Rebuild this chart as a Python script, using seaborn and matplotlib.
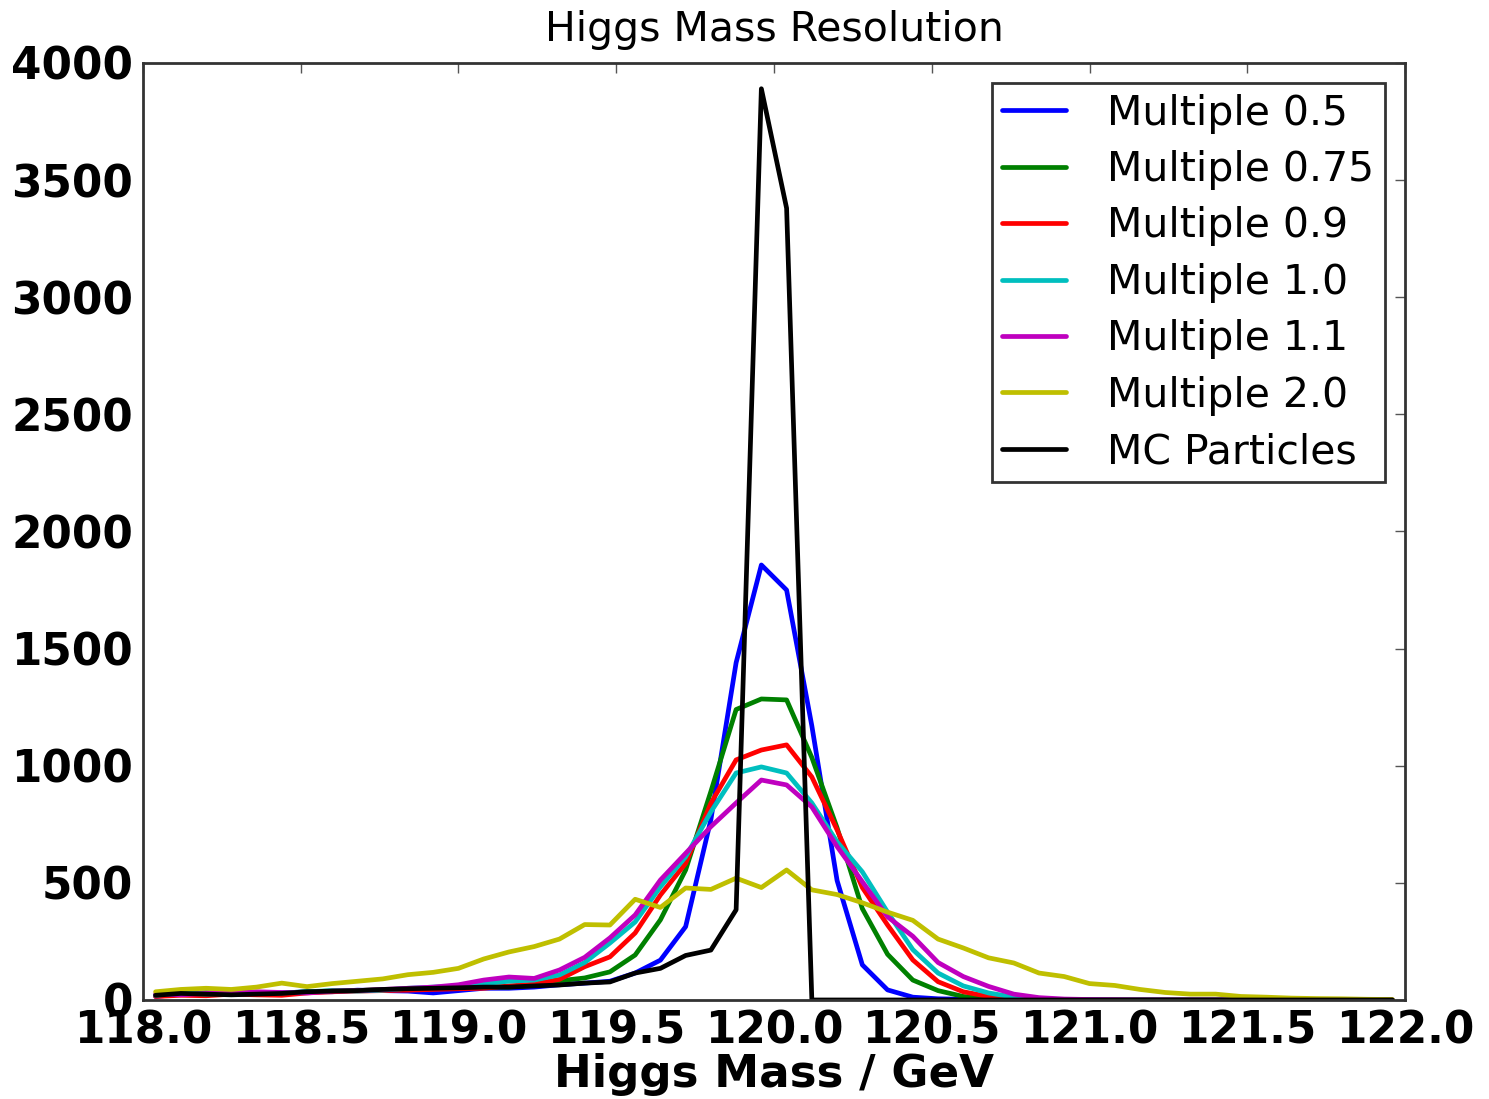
import numpy as np
import pandas as pd
import matplotlib
matplotlib.use("Agg")
import matplotlib.pyplot as plt
import seaborn as sns

# bin centres, 50 bins of 0.08 GeV between 118 and 122
mass = np.arange(50) * 0.08 + 118.04

mult_05 = [15, 25, 30, 28, 25, 30, 35, 35, 42, 40, 38, 30, 40, 50,
           50, 55, 65, 72, 80, 115, 170, 313, 770, 1440, 1857, 1750, 1170, 510, 150, 43,
           12, 5, 3, 2, 1, 1, 0, 1, 0, 0, 0, 0, 0, 0, 0, 0, 0, 0, 0, 0]
mult_075 = [20, 25, 30, 25, 30, 28, 35, 38, 40, 45, 45, 50, 52, 55,
            55, 62, 82, 94, 120, 192, 342, 555, 890, 1240, 1285, 1281, 1035, 735, 390, 195,
            85, 40, 15, 6, 2, 1, 0, 0, 0, 0, 0, 0, 0, 0, 0, 0, 0, 0, 0, 0]
mult_09 = [15, 20, 18, 25, 22, 20, 30, 35, 38, 40, 42, 45, 48, 50,
           60, 68, 88, 142, 184, 286, 448, 583, 840, 1025, 1067, 1089, 952, 726, 480, 320,
           171, 78, 35, 15, 6, 2, 1, 0, 0, 0, 0, 0, 0, 0, 0, 0, 0, 0, 0, 0]
mult_10 = [20, 30, 25, 30, 28, 30, 35, 40, 38, 42, 50, 55, 60, 70,
           80, 85, 107, 160, 243, 333, 483, 611, 803, 969, 995, 969, 841, 675, 547, 375,
           215, 115, 60, 30, 12, 4, 2, 1, 0, 0, 0, 0, 0, 0, 0, 0, 0, 0, 0, 0]
mult_11 = [25, 22, 28, 30, 35, 32, 30, 38, 40, 45, 50, 55, 65, 85,
           98, 92, 128, 182, 265, 363, 512, 626, 740, 841, 939, 918, 824, 655, 505, 355,
           272, 160, 100, 58, 25, 10, 4, 2, 1, 0, 0, 0, 0, 0, 0, 0, 0, 0, 0, 0]
mult_20 = [35, 45, 50, 45, 55, 72, 57, 70, 80, 90, 108, 118, 135, 175,
           205, 228, 260, 322, 320, 430, 395, 478, 472, 520, 480, 555, 470, 450, 415, 375,
           340, 260, 222, 180, 158, 115, 100, 70, 62, 45, 32, 25, 25, 15, 12, 8, 6, 5, 3, 2]
mc_particles = [20, 28, 25, 22, 25, 28, 35, 38, 40, 45, 48, 50, 52, 55,
                55, 60, 64, 72, 77, 115, 135, 190, 213, 385, 3890, 3380, 0, 0, 0, 0,
                0, 0, 0, 0, 0, 0, 0, 0, 0, 0, 0, 0, 0, 0, 0, 0, 0, 0, 0, 0]

labels = ["Multiple 0.5", "Multiple 0.75", "Multiple 0.9", "Multiple 1.0",
          "Multiple 1.1", "Multiple 2.0", "MC Particles"]
colors = ["#0000ff", "#008000", "#ff0000", "#00bfbf", "#bf00bf", "#bfbf00", "#000000"]
series = [mult_05, mult_075, mult_09, mult_10, mult_11, mult_20, mc_particles]

df = pd.concat([pd.DataFrame({"mass": mass, "count": s, "sample": lab})
                for s, lab in zip(series, labels)], ignore_index=True)

sns.set_style("white")
plt.rcParams["font.family"] = ["DejaVu Sans"]
plt.rcParams["text.color"] = "black"

fig = plt.figure(figsize=(14.89, 10.99), dpi=100)
ax = fig.add_axes([0.096, 0.0901, 0.8476, 0.8526])

sns.lineplot(data=df, x="mass", y="count", hue="sample", hue_order=labels,
             palette=colors, linewidth=3.4, ax=ax, legend=False)

ax.set_xlim(118, 122)
ax.set_ylim(0, 4000)
ax.set_xticks(np.arange(118, 122.01, 0.5))
ax.set_xticklabels([f"{v:.1f}" for v in np.arange(118, 122.01, 0.5)])
ax.set_yticks(np.arange(0, 4001, 500))
ax.set_yticklabels([str(v) for v in range(0, 4001, 500)])
ax.tick_params(direction="in", length=7, width=1, top=True, right=True,
               labelsize=31.5, pad=7, colors="#555555", labelcolor="black")
for lab in ax.get_xticklabels() + ax.get_yticklabels():
    lab.set_fontweight("bold")

for sp in ax.spines.values():
    sp.set_color("#333333")
    sp.set_linewidth(2)

ax.set_xlabel("Higgs Mass / GeV", fontsize=32.5, fontweight="bold",
              color="black", labelpad=0)
ax.set_ylabel("")
ax.set_title("Higgs Mass Resolution", fontsize=29.5, color="black", pad=16)

handles = [plt.Line2D([], [], color=c, linewidth=3.4) for c in colors]
leg = ax.legend(handles, labels, loc="upper right", fontsize=29.5, frameon=True,
                fancybox=False, framealpha=1, edgecolor="#333333",
                handlelength=1.56, handletextpad=1.0, labelspacing=0.4,
                borderpad=0.25, borderaxespad=0.5)
leg.get_frame().set_linewidth(2)

fig.savefig("out.png", dpi=100)
